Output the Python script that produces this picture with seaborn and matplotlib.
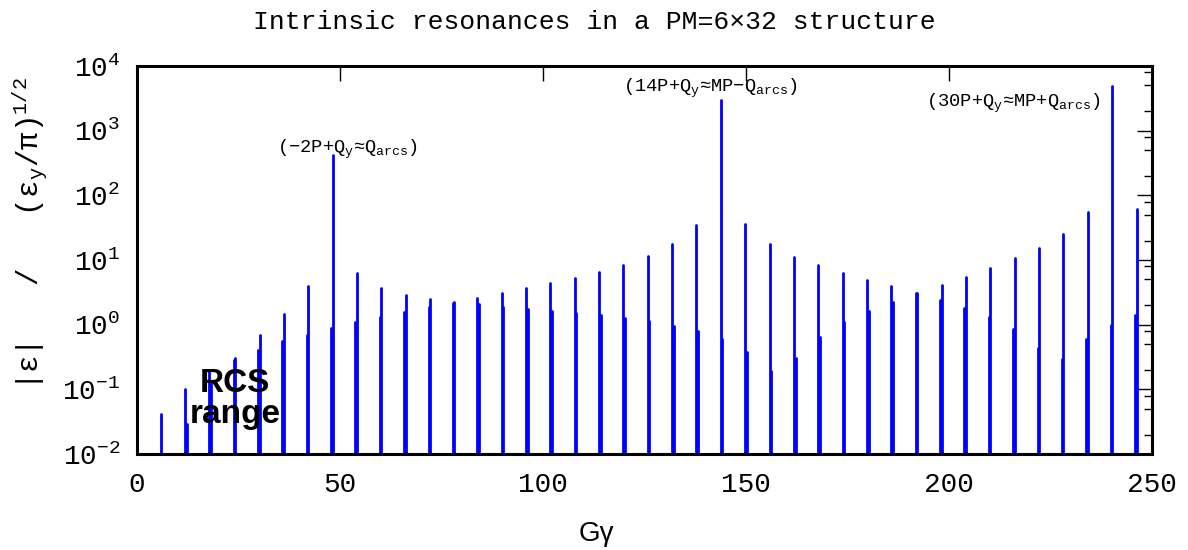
import numpy as np
import pandas as pd
import matplotlib
matplotlib.use("Agg")
import matplotlib.pyplot as plt
from matplotlib.ticker import LogLocator, NullFormatter
import seaborn as sns

# ---- data ----
# resonances just below each multiple of P=6 (k*P - Qy side)
gg_left = [5.8, 11.8, 17.8, 23.8, 29.8, 35.8, 41.8, 47.8, 53.8, 59.8,
           65.8, 71.8, 77.8, 83.8, 89.8, 95.8, 101.8, 107.8, 113.8, 119.8,
           125.8, 131.8, 137.8, 143.8, 149.8, 155.8, 161.8, 167.8, 173.8, 179.8,
           185.8, 191.8, 197.8, 203.8, 209.8, 215.8, 221.8, 227.8, 233.8, 239.8,
           245.8]
eps_left = [0.042, 0.101, 0.183, 0.28, 0.40, 0.55, 0.70, 0.88, 1.09, 1.33,
            1.59, 1.85, 2.2, 2.62, 3.12, 3.69, 4.41, 5.33, 6.6, 8.47,
            11.5, 17.7, 34.8, 2980, 35.6, 17.7, 11.3, 8.27, 6.3, 4.97,
            3.92, 3.05, 2.44, 1.83, 1.33, 0.85, 0.43, 0.29, 0.60, 1.0,
            1.43]
# resonances just above each multiple of P=6 (k*P + Qy side)
gg_right = [6.2, 12.2, 18.2, 24.2, 30.2, 36.2, 42.2, 48.2, 54.2, 60.2,
            66.2, 72.2, 78.2, 84.2, 90.2, 96.2, 102.2, 108.2, 114.2, 120.2,
            126.2, 132.2, 138.2, 144.2, 150.2, 156.2, 162.2, 168.2, 174.2, 180.2,
            186.2, 192.2, 198.2, 204.2, 210.2, 216.2, 222.2, 228.2, 234.2, 240.2,
            246.2]
eps_right = [0.006, 0.029, 0.128, 0.31, 0.68, 1.46, 3.96, 421, 6.2, 3.73,
             2.91, 2.49, 2.27, 2.06, 1.90, 1.77, 1.65, 1.53, 1.41, 1.28,
             1.14, 0.97, 0.80, 0.60, 0.38, 0.195, 0.31, 0.65, 1.09, 1.61,
             2.27, 3.1, 4.15, 5.52, 7.61, 10.6, 15.5, 25.5, 55.9, 4960,
             62.2]

x_ticks = [0, 50, 100, 150, 200, 250]
title = "Intrinsic resonances in a PM=6\u00d732 structure"
annotations = [
    ("(\u22122P+Q$_\\mathregular{y}$\u2248Q$_\\mathregular{arcs}$)", 51.8, 449),
    ("(14P+Q$_\\mathregular{y}$\u2248MP\u2212Q$_\\mathregular{arcs}$)", 141.1, 3980),
    ("(30P+Q$_\\mathregular{y}$\u2248MP+Q$_\\mathregular{arcs}$)", 215.9, 2334),
]

# ---- build long table for seaborn (each impulse = one unit) ----
floor = 1e-3
rows = []
uid = 0
for xs, hs in ((gg_left, eps_left), (gg_right, eps_right)):
    for x, h in zip(xs, hs):
        rows.append((uid, x, floor))
        rows.append((uid, x, h))
        uid += 1
df = pd.DataFrame(rows, columns=["line", "gg", "eps"])

sns.set_style("white")
plt.rcParams["font.family"] = ["Liberation Mono", "DejaVu Sans Mono"]
plt.rcParams["mathtext.fontset"] = "custom"
plt.rcParams["mathtext.rm"] = "Liberation Mono"
plt.rcParams["mathtext.it"] = "Liberation Mono"
plt.rcParams["mathtext.bf"] = "Liberation Mono:bold"
for key in ("text.color", "axes.labelcolor", "xtick.color", "ytick.color",
            "axes.edgecolor"):
    plt.rcParams[key] = "black"

fig = plt.figure(figsize=(11.88, 5.5), dpi=100)
ax = fig.add_axes([137 / 1188, 1 - 454 / 550, 1015 / 1188, 388 / 550])

sns.lineplot(data=df, x="gg", y="eps", units="line", estimator=None,
             sort=False, color="#0000ff", linewidth=2.0, ax=ax, legend=False)

ax.set_yscale("log")
ax.set_xlim(0, 250)
ax.set_ylim(1e-2, 1e4)
ax.set_xticks(x_ticks)
ax.set_xticklabels([str(t) for t in x_ticks])
ax.yaxis.set_major_locator(LogLocator(base=10, numticks=12))
ax.yaxis.set_minor_locator(LogLocator(base=10, subs=[2, 5, 8], numticks=12))
ax.yaxis.set_minor_formatter(NullFormatter())

ax.tick_params(which="both", direction="in", top=True, right=True,
               colors="black", width=1.0)
ax.tick_params(which="major", length=11)
ax.tick_params(which="minor", length=6)
ax.tick_params(axis="x", which="major", pad=13, labelsize=20)
ax.tick_params(axis="y", which="major", pad=12, labelsize=20)
for sp in ax.spines.values():
    sp.set_linewidth(2.2)
    sp.set_color("black")

ax.set_xlabel("G\u03b3", fontsize=20, family=["Liberation Sans", "DejaVu Sans"])
ax.xaxis.set_label_coords((596 - 137) / 1015, (454 - 521) / 388)
ax.set_ylabel("|\u03b5|   /   (\u03b5$_\\mathregular{y}$/\u03c0)$^\\mathregular{1/2}$",
              fontsize=21)
ax.yaxis.set_label_coords((50 - 137) / 1015, (454 - 234) / 388)

fig.text(0.5, 1 - 22 / 550, title, ha="center", va="center", fontsize=19)

for txt, xv, yv in annotations:
    ax.text(xv, yv, txt, ha="center", va="baseline", fontsize=13.5)

ax.text(24.1, 0.0908, "RCS", ha="center", va="baseline", fontsize=24,
        fontweight="bold", family=["Liberation Sans", "DejaVu Sans"])
ax.text(24.1, 0.0301, "range", ha="center", va="baseline", fontsize=24,
        fontweight="bold", family=["Liberation Sans", "DejaVu Sans"])

fig.savefig("out.png", dpi=100)
